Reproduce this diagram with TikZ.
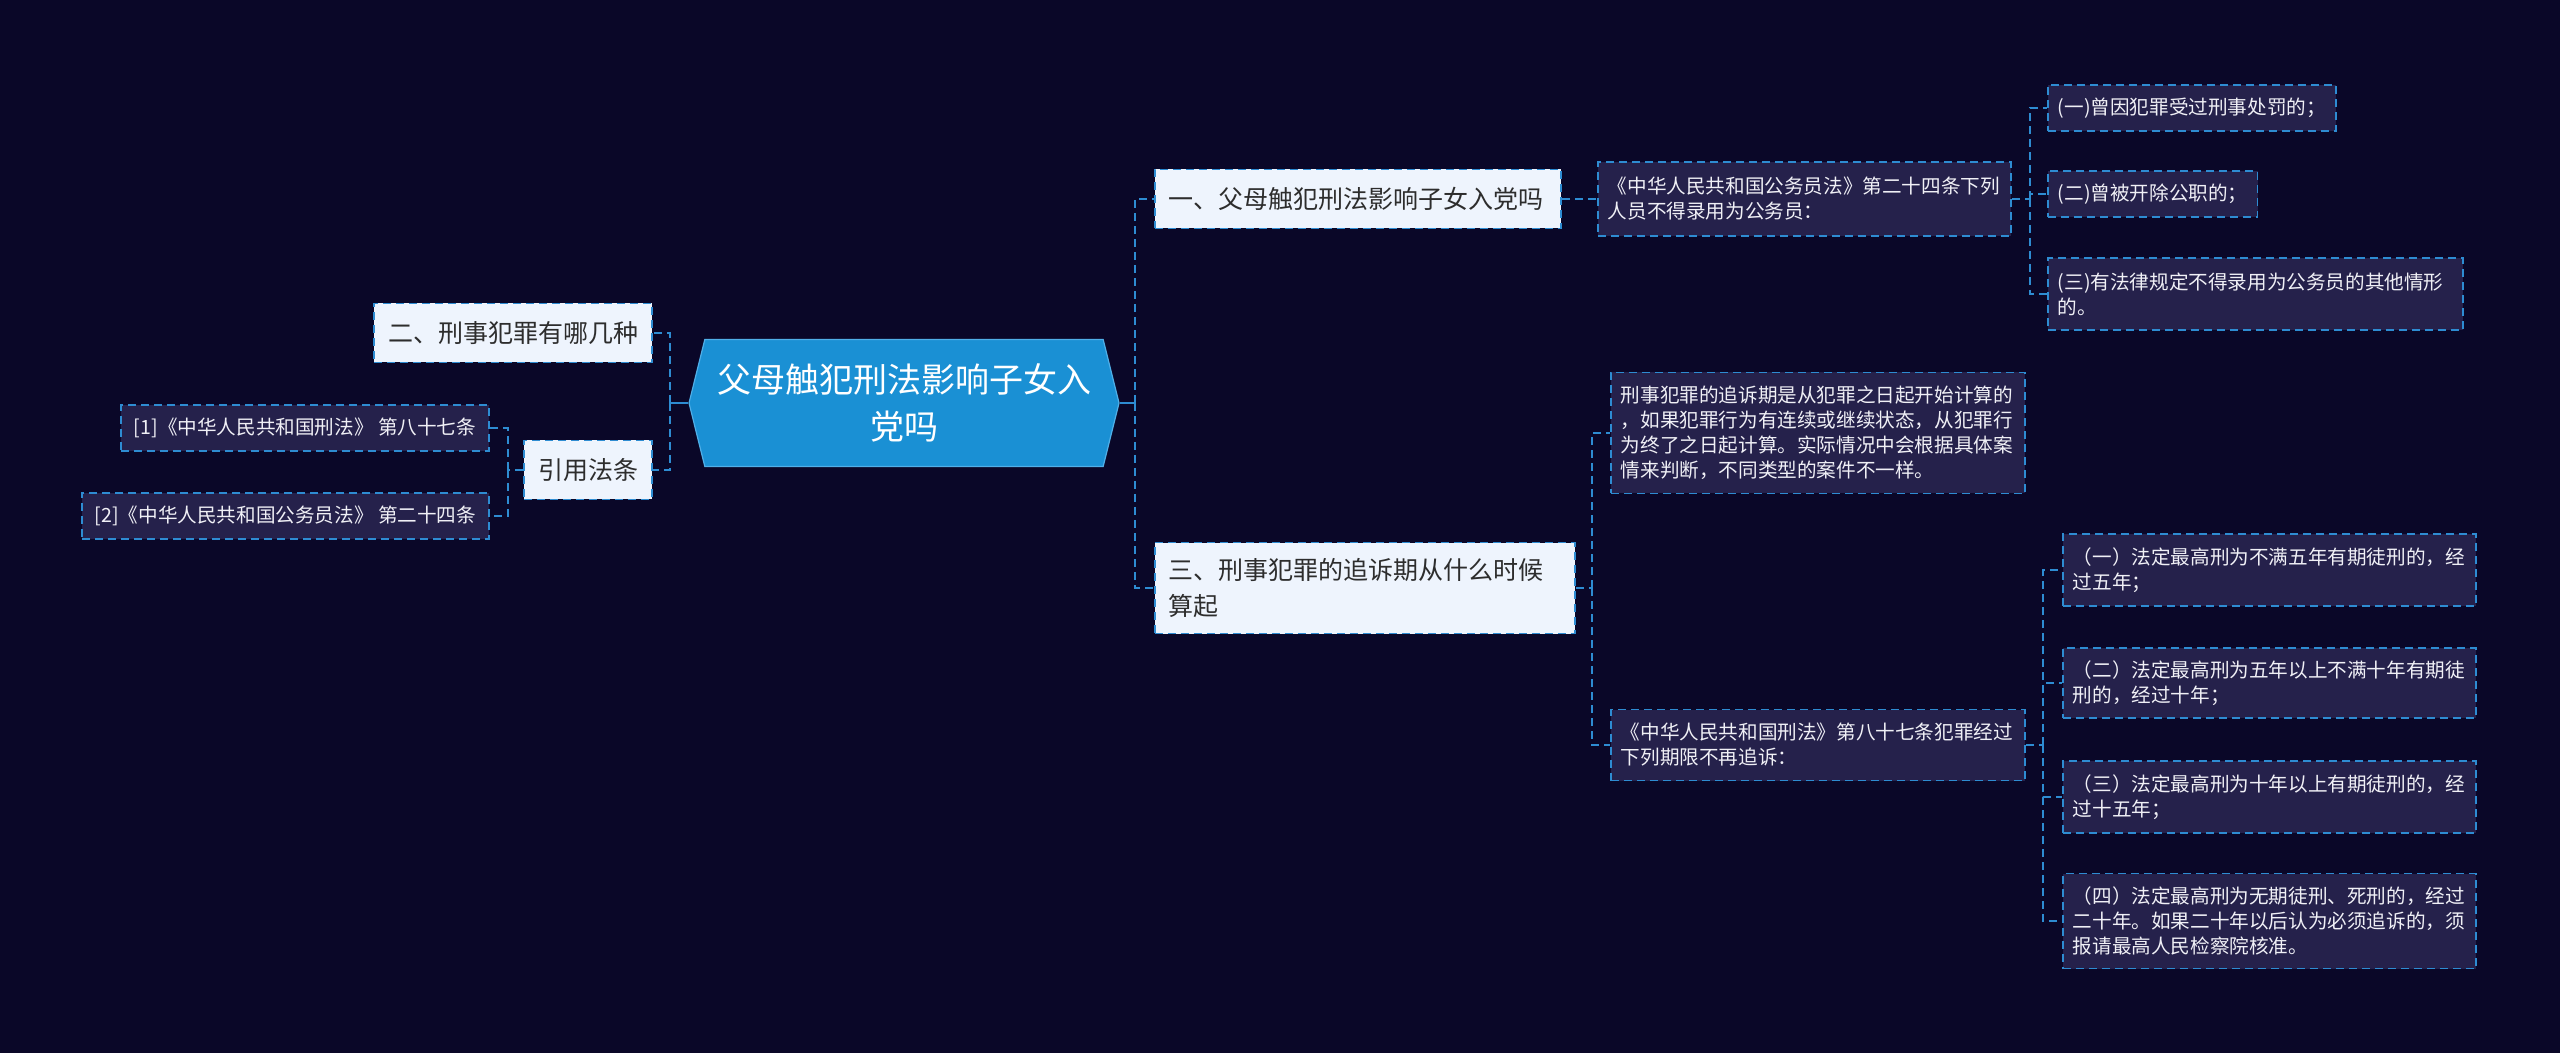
\documentclass[tikz,border=0pt]{standalone}
\usepackage{fontspec}
\newfontfamily\cjk{Noto Sans CJK SC}
\usetikzlibrary{shapes.symbols}

\definecolor{bgnavy}{RGB}{10,7,40}
\definecolor{rootblue}{RGB}{26,144,212}
\definecolor{rootedge}{RGB}{80,175,232}
\definecolor{linkblue}{RGB}{46,140,210}
\definecolor{paleback}{RGB}{238,244,253}
\definecolor{leafback}{RGB}{37,33,75}
\definecolor{inktext}{RGB}{45,45,45}
\definecolor{leaftext}{RGB}{240,240,246}

\begin{document}
\begin{tikzpicture}[x=0.5pt,y=-0.5pt]
		    \tikzset{
   			root/.style={shape=signal, signal to=west and east, signal pointer angle=152, fill=rootblue, draw=rootedge, line width=0.6pt, text=white, font=\cjk\fontsize{17pt}{23.5pt}\selectfont, align=center, minimum width=215pt, minimum height=63.5pt, inner sep=0pt},
    		topic/.style={draw=linkblue, dash pattern=on 4pt off 2.5pt, line width=0.9pt, fill=paleback, text=inktext, font=\cjk\fontsize{12.5pt}{18pt}\selectfont, inner xsep=7pt, inner ysep=0pt, minimum height=29.5pt},
    		leaf/.style={draw=linkblue, dash pattern=on 4pt off 2.5pt, line width=0.9pt, fill=leafback, text=leaftext, font=\cjk\fontsize{9.8pt}{12.5pt}\selectfont, inner xsep=5pt, inner ysep=0pt, minimum height=23pt, align=left},
    		link/.style={draw=linkblue, dash pattern=on 4pt off 2.5pt, line width=0.9pt}
		    }

            \useasboundingbox (0,0) rectangle (2560,1053);
            \fill[bgnavy] (0,0) rectangle (2560,1053);

   	        \draw node[root] (root) at (904,403) {父母触犯刑法影响子女入\\党吗};

            % left branch
            \draw node[topic, anchor=east, align=center] (n2) at (653,333) {二、刑事犯罪有哪几种};
            \draw node[topic, anchor=east, align=center] (cite) at (653,470) {引用法条};
            \draw node[leaf, anchor=east, inner xsep=6.5pt] (ref1) at (490,428) {[1]《中华人民共和国刑法》 第八十七条};
            \draw node[leaf, anchor=east, inner xsep=6.5pt] (ref2) at (490,516) {[2]《中华人民共和国公务员法》 第二十四条};

            % right branch
            \draw node[topic, anchor=west, text width=189pt, align=left] (n1) at (1154,199) {一、父母触犯刑法影响子女入党吗};
            \draw node[leaf, anchor=west, text width=196.5pt, minimum height=37pt] (law) at (1597,199) {《中华人民共和国公务员法》第二十四条下列\\人员不得录用为公务员：};
            \draw node[leaf, anchor=west] (c1) at (2047,108) {(一)曾因犯罪受过刑事处罚的；};
            \draw node[leaf, anchor=west] (c2) at (2047,194) {(二)曾被开除公职的；};
            \draw node[leaf, anchor=west, text width=197.5pt, minimum height=36pt] (c3) at (2047,294) {(三)有法律规定不得录用为公务员的其他情形\\的。};

            \draw node[topic, anchor=west, text width=196pt, align=left, minimum height=45.5pt] (n3) at (1154,588) {三、刑事犯罪的追诉期从什么时候\\算起};
            \draw node[leaf, anchor=west, text width=197pt, minimum height=60.5pt] (rule) at (1610,433) {刑事犯罪的追诉期是从犯罪之日起开始计算的\\，如果犯罪行为有连续或继续状态，从犯罪行\\为终了之日起计算。实际情况中会根据具体案\\情来判断，不同类型的案件不一样。};
            \draw node[leaf, anchor=west, text width=197pt, minimum height=35.5pt] (law87) at (1610,745) {《中华人民共和国刑法》第八十七条犯罪经过\\下列期限不再追诉：};
            \draw node[leaf, anchor=west, text width=196.5pt, minimum height=36pt] (p1) at (2062,570) {（一）法定最高刑为不满五年有期徒刑的，经\\过五年；};
            \draw node[leaf, anchor=west, text width=196.5pt, minimum height=35pt] (p2) at (2062,683) {（二）法定最高刑为五年以上不满十年有期徒\\刑的，经过十年；};
            \draw node[leaf, anchor=west, text width=196.5pt, minimum height=36pt] (p3) at (2062,797) {（三）法定最高刑为十年以上有期徒刑的，经\\过十五年；};
            \draw node[leaf, anchor=west, text width=196.5pt, minimum height=47.5pt] (p4) at (2062,921) {（四）法定最高刑为无期徒刑、死刑的，经过\\二十年。如果二十年以后认为必须追诉的，须\\报请最高人民检察院核准。};

            % trunks
            \coordinate (rtrunk) at (1135,403);
            \coordinate (ltrunk) at (670,403);
            \coordinate (citetrunk) at (508,470);
            \coordinate (lawtrunk) at (2030,199);
            \coordinate (n3trunk) at (1592,588);
            \coordinate (limtrunk) at (2043,745);

            \draw[linkblue, line width=0.9pt] (root.east) -- (rtrunk);
            \draw[linkblue, line width=0.9pt] (root.west) -- (ltrunk);
            \draw[link] (n1.east) -- (law.west);
            \draw[link] (law.east) -- (lawtrunk);
            \draw[link] (n3.east) -- (n3trunk);
            \draw[link] (law87.east) -- (limtrunk);
            \draw[link] (cite.west) -- (citetrunk);
            \foreach \x/\y in {%
        	    rtrunk/n1,rtrunk/n3,lawtrunk/c1,lawtrunk/c2,lawtrunk/c3,n3trunk/rule,n3trunk/law87,limtrunk/p1,limtrunk/p2,limtrunk/p3,limtrunk/p4%
    	    }{
   		 	\draw[link] (\x) |- (\y.west);
   	        }
            \foreach \x/\y in {ltrunk/n2,ltrunk/cite,citetrunk/ref1,citetrunk/ref2}{
   		 	\draw[link] (\x) |- (\y.east);
   	        }
	    \end{tikzpicture}
\end{document}
